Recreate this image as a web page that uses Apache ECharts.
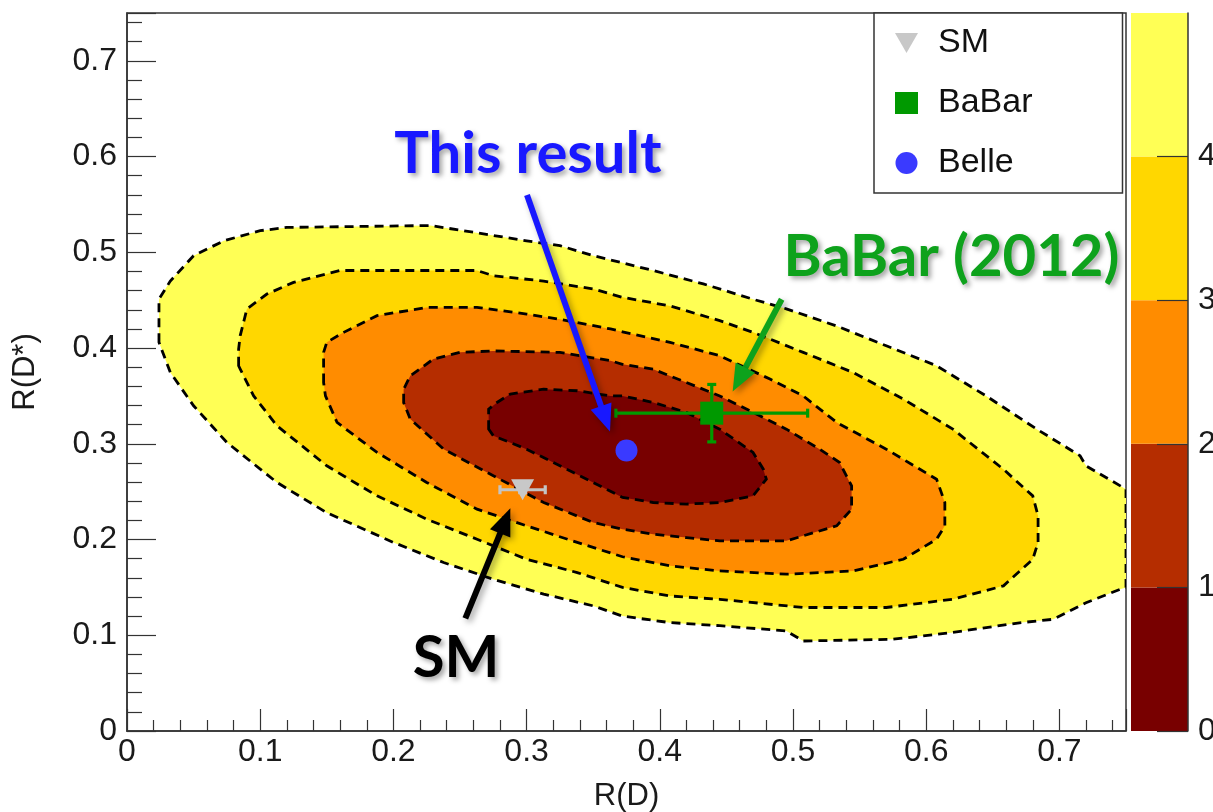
<!DOCTYPE html>
<html>
<head>
<meta charset="utf-8">
<script src="https://cdn.jsdelivr.net/npm/echarts@6/dist/echarts.min.js"></script>
<style>
html,body{margin:0;padding:0;background:#fff;}
#c{width:1213px;height:812px;}
</style>
</head>
<body>
<div id="c"></div>
<script>
// ---------- data ----------
// contour boundaries [R(D), R(D*)], outermost (level 4) to innermost (level 0)
const contourLevel4 = [[0.024,0.406],[0.024,0.451],[0.0325,0.470],[0.050,0.4965],[0.0726,0.512],[0.100,0.5226],[0.120,0.526],[0.2277,0.528],[0.260,0.521],[0.300,0.512],[0.325,0.507],[0.350,0.4965],[0.372,0.489],[0.395,0.481],[0.4327,0.467],[0.470,0.451],[0.495,0.441],[0.5328,0.423],[0.570,0.4024],[0.6078,0.3815],[0.645,0.350],[0.683,0.3153],[0.7155,0.2875],[0.720,0.277],[0.75,0.2526],[0.75,0.150],[0.7455,0.148],[0.720,0.134],[0.6955,0.1167],[0.670,0.113],[0.620,0.103],[0.575,0.0958],[0.5077,0.094],[0.495,0.1045],[0.445,0.110],[0.4077,0.1132],[0.372,0.120],[0.350,0.1307],[0.3128,0.143],[0.275,0.1585],[0.2377,0.176],[0.200,0.197],[0.150,0.228],[0.1126,0.2596],[0.075,0.3014],[0.050,0.3397],[0.0325,0.3746]];
const contourLevel3 = [[0.0838,0.3815],[0.0838,0.399],[0.085,0.413],[0.090,0.4408],[0.105,0.4564],[0.125,0.4686],[0.160,0.481],[0.2628,0.481],[0.275,0.4756],[0.3128,0.470],[0.350,0.4617],[0.372,0.453],[0.4077,0.444],[0.445,0.4286],[0.470,0.4164],[0.5077,0.3955],[0.545,0.3746],[0.5828,0.3467],[0.620,0.3153],[0.6579,0.2735],[0.680,0.2456],[0.684,0.2247],[0.684,0.197],[0.680,0.1794],[0.658,0.1516],[0.620,0.1376],[0.570,0.129],[0.5077,0.129],[0.445,0.1376],[0.4077,0.141],[0.372,0.150],[0.338,0.1655],[0.300,0.1794],[0.2628,0.2003],[0.225,0.2213],[0.1877,0.2456],[0.150,0.277],[0.1126,0.3188],[0.0951,0.350],[0.085,0.378]];
const contourLevel2 = [[0.1476,0.364],[0.1476,0.3955],[0.150,0.406],[0.1627,0.4164],[0.1877,0.4338],[0.225,0.4425],[0.2628,0.4425],[0.300,0.4355],[0.325,0.430],[0.363,0.420],[0.372,0.417],[0.4077,0.406],[0.445,0.392],[0.4827,0.3676],[0.5077,0.350],[0.5328,0.3223],[0.570,0.2944],[0.6078,0.263],[0.614,0.2387],[0.614,0.2143],[0.6078,0.2003],[0.5828,0.1794],[0.545,0.1672],[0.495,0.1638],[0.445,0.1672],[0.4077,0.1725],[0.372,0.182],[0.338,0.197],[0.300,0.2143],[0.2628,0.2317],[0.225,0.2596],[0.1877,0.291],[0.1577,0.3223],[0.149,0.350]];
const contourLevel1 = [[0.2077,0.343],[0.2077,0.357],[0.2127,0.371],[0.230,0.3885],[0.250,0.3955],[0.275,0.397],[0.325,0.3955],[0.363,0.3868],[0.372,0.383],[0.395,0.378],[0.420,0.364],[0.445,0.350],[0.470,0.3328],[0.495,0.3153],[0.520,0.2944],[0.535,0.2805],[0.544,0.256],[0.544,0.2317],[0.5328,0.2143],[0.495,0.1986],[0.445,0.1986],[0.420,0.202],[0.395,0.2056],[0.372,0.2108],[0.350,0.2178],[0.3128,0.2387],[0.275,0.2666],[0.2377,0.2944],[0.2127,0.3258]];
const contourLevel0 = [[0.2715,0.3153],[0.2715,0.3362],[0.2778,0.3432],[0.2878,0.352],[0.3128,0.357],[0.338,0.3554],[0.363,0.350],[0.372,0.350],[0.395,0.3432],[0.420,0.3328],[0.445,0.3153],[0.470,0.291],[0.4777,0.2735],[0.480,0.2631],[0.470,0.2456],[0.445,0.2387],[0.420,0.237],[0.395,0.2387],[0.372,0.244],[0.350,0.2596],[0.325,0.277],[0.300,0.2944],[0.275,0.3084]];

const contourLevels = [4, 3, 2, 1, 0];
const colorbarBounds = [0, 1, 2, 3, 4, 5];
const colorbarTickValues = [0, 1, 2, 3, 4];
const colorbarTickLabels = ['0', '1', '2', '3', '4', ''];

// measurements
const seriesNames = ['SM', 'BaBar', 'Belle'];
const smPoint = [0.297, 0.252];
const smErr = [0.017, 0.003];
const babarPoint = [0.439, 0.332];
const babarErr = [0.072, 0.030];
const bellePoint = [0.375, 0.293];

// annotations: [x, y] in data space
const annotationTexts = ['This result', 'BaBar (2012)', 'SM'];
const annotationPos = [[0.301, 0.602], [0.619, 0.4945], [0.247, 0.076]];
const arrowStarts = [[0.3003, 0.560], [0.4915, 0.451], [0.254, 0.1176]];
const arrowEnds = [[0.3626, 0.3128], [0.4547, 0.3546], [0.2878, 0.2326]];

// ---------- styling ----------
const bandColors = ['#780000', '#b52d00', '#ff8c00', '#ffd700', '#ffff55'];
const annotationColors = ['#1818ff', '#0ea21c', '#000000'];
const contours = [contourLevel4, contourLevel3, contourLevel2, contourLevel1, contourLevel0];
const FONT = 'Liberation Sans, Arial, sans-serif';
const AFONT = 'Lato, Open Sans, sans-serif';

const chart = echarts.init(document.getElementById('c'), null, {renderer: 'canvas'});

const axisCommon = {
  type: 'value', min: 0, max: 0.75, interval: 0.1,
  splitLine: {show: false},
  axisLine: {show: true, onZero: false, lineStyle: {color: '#333', width: 1.5}},
  axisLabel: {fontSize: 32, fontFamily: FONT, color: '#1a1a1a', showMaxLabel: false,
    formatter: v => (Math.round(v * 10) / 10).toString()},
  nameLocation: 'middle',
  nameTextStyle: {fontSize: 31, fontFamily: FONT, color: '#1a1a1a'},
  z: 6
};

const option = {
  animation: false,
  backgroundColor: '#fff',
  grid: [
    {left: 127, right: 87, top: 13, bottom: 81, show: true, borderColor: '#333', borderWidth: 1.5, outerBoundsMode: 'none', containLabel: false},
    {left: 1131, right: 25, top: 13, bottom: 81, show: false, outerBoundsMode: 'none', containLabel: false}
  ],
  xAxis: [
    Object.assign({}, axisCommon, {
      gridIndex: 0, name: 'R(D)', nameGap: 50,
      axisTick: {show: true, inside: true, length: 22, lineStyle: {color: '#333', width: 1.2}},
      minorTick: {show: true, splitNumber: 5, length: 11, lineStyle: {color: '#333', width: 1.2}},
      axisLabel: Object.assign({}, axisCommon.axisLabel, {margin: 5})
    }),
    {type: 'value', gridIndex: 1, min: 0, max: 1, show: false}
  ],
  yAxis: [
    Object.assign({}, axisCommon, {
      gridIndex: 0, name: 'R(D*)', nameGap: 86,
      axisTick: {show: true, inside: true, length: 29, lineStyle: {color: '#333', width: 1.2}},
      minorTick: {show: true, splitNumber: 5, length: 15, lineStyle: {color: '#333', width: 1.2}},
      axisLabel: Object.assign({}, axisCommon.axisLabel, {margin: 10})
    }),
    {
      type: 'value', gridIndex: 1, min: 0, max: 5, interval: 1, position: 'right', z: 6,
      splitLine: {show: false},
      axisLine: {show: true, onZero: false, lineStyle: {color: '#333', width: 1.5}},
      axisTick: {show: true, inside: true, length: 31, customValues: colorbarTickValues, lineStyle: {color: '#333', width: 1.2}},
      axisLabel: {fontSize: 32, fontFamily: FONT, color: '#1a1a1a', margin: 10,
        formatter: v => colorbarTickLabels[colorbarBounds.indexOf(Math.round(v))] || ''}
    }
  ],
  legend: {
    orient: 'vertical', left: 874, top: 13,
    padding: [13, 90, 13, 21],
    itemWidth: 23, itemHeight: 22, itemGap: 26,
    borderColor: '#333', borderWidth: 1.5, backgroundColor: '#fff',
    selectedMode: false,
    textStyle: {fontSize: 34, fontFamily: FONT, color: '#111', padding: [0, 0, 0, 15], lineHeight: 34},
    data: [
      {name: 'SM', icon: 'path://M0,0L24,0L12,21Z', itemStyle: {color: '#c8c8c8', opacity: 1}},
      {name: 'BaBar', icon: 'rect', itemStyle: {color: '#009900', opacity: 1}},
      {name: 'Belle', icon: 'circle', itemStyle: {color: '#3a3aff', opacity: 1}}
    ]
  },
  series: [
    {
      type: 'custom', name: 'contours', xAxisIndex: 0, yAxisIndex: 0, clip: true, silent: true, z: 1,
      data: contourLevels.map((lvl, i) => [0.375, 0.375, i]),
      renderItem: function (params, api) {
        const i = api.value(2);
        const pts = contours[i].map(p => api.coord(p));
        return {
          type: 'polygon',
          shape: {points: pts},
          style: {fill: bandColors[contourLevels[i]], stroke: '#000', lineWidth: 2.8, lineDash: [9, 6]}
        };
      }
    },
    {
      type: 'custom', name: 'colorbar', xAxisIndex: 1, yAxisIndex: 1, silent: true, z: 1,
      data: bandColors.map((c, i) => [colorbarBounds[i], colorbarBounds[i + 1], i]),
      renderItem: function (params, api) {
        const a = api.coord([0, api.value(0)]);
        const b = api.coord([1, api.value(1)]);
        return {type: 'rect', shape: {x: a[0], y: b[1], width: b[0] - a[0], height: a[1] - b[1]},
          style: {fill: bandColors[api.value(2)]}};
      }
    },
    {
      type: 'custom', name: 'errorbars', xAxisIndex: 0, yAxisIndex: 0, silent: true, z: 4,
      data: [
        [smPoint[0], smPoint[1], smErr[0], smErr[1], 0],
        [babarPoint[0], babarPoint[1], babarErr[0], babarErr[1], 1]
      ],
      renderItem: function (params, api) {
        const x = api.value(0), y = api.value(1), ex = api.value(2), ey = api.value(3);
        const color = api.value(4) === 0 ? '#c4c4c4' : '#009a00';
        const l = api.coord([x - ex, y]), r = api.coord([x + ex, y]);
        const t = api.coord([x, y + ey]), b = api.coord([x, y - ey]);
        const cap = 4.5;
        const st = {stroke: color, lineWidth: 3.2};
        return {type: 'group', children: [
          {type: 'line', shape: {x1: l[0], y1: l[1], x2: r[0], y2: r[1]}, style: st},
          {type: 'line', shape: {x1: t[0], y1: t[1], x2: b[0], y2: b[1]}, style: st},
          {type: 'line', shape: {x1: l[0], y1: l[1] - cap, x2: l[0], y2: l[1] + cap}, style: st},
          {type: 'line', shape: {x1: r[0], y1: r[1] - cap, x2: r[0], y2: r[1] + cap}, style: st},
          {type: 'line', shape: {x1: t[0] - cap, y1: t[1], x2: t[0] + cap, y2: t[1]}, style: st},
          {type: 'line', shape: {x1: b[0] - cap, y1: b[1], x2: b[0] + cap, y2: b[1]}, style: st}
        ]};
      }
    },
    {type: 'scatter', name: 'SM', data: [smPoint], symbol: 'path://M0,0L24,0L12,21Z', symbolSize: [23, 21],
      itemStyle: {color: '#c8c8c8', opacity: 1}, z: 5, silent: true},
    {type: 'scatter', name: 'BaBar', data: [babarPoint], symbol: 'rect', symbolSize: 23,
      itemStyle: {color: '#009900', opacity: 1}, z: 5, silent: true},
    {type: 'scatter', name: 'Belle', data: [bellePoint], symbol: 'circle', symbolSize: 22,
      itemStyle: {color: '#3a3aff', opacity: 1}, z: 5, silent: true},
    {
      type: 'custom', name: 'arrows', xAxisIndex: 0, yAxisIndex: 0, silent: true, z: 8, clip: false,
      data: arrowStarts.map((s, i) => [s[0], s[1], arrowEnds[i][0], arrowEnds[i][1], i]),
      renderItem: function (params, api) {
        const p1 = api.coord([api.value(0), api.value(1)]);
        const p2 = api.coord([api.value(2), api.value(3)]);
        const color = annotationColors[api.value(4)];
        const dx = p2[0] - p1[0], dy = p2[1] - p1[1], L = Math.hypot(dx, dy);
        const ux = dx / L, uy = dy / L;
        const hl = 27, hw = 11;
        const base = [p2[0] - ux * hl, p2[1] - uy * hl];
        const sh = {shadowColor: 'rgba(0,0,0,0.35)', shadowBlur: 6, shadowOffsetX: 3, shadowOffsetY: 3};
        return {type: 'group', children: [
          {type: 'line', shape: {x1: p1[0], y1: p1[1], x2: base[0] + ux * 3, y2: base[1] + uy * 3},
            style: Object.assign({stroke: color, lineWidth: 6}, sh)},
          {type: 'polygon', shape: {points: [p2, [base[0] - uy * hw, base[1] + ux * hw], [base[0] + uy * hw, base[1] - ux * hw]]},
            style: Object.assign({fill: color}, sh)}
        ]};
      }
    },
    {
      type: 'custom', name: 'annotations', xAxisIndex: 0, yAxisIndex: 0, silent: true, z: 9, clip: false,
      data: annotationPos.map((p, i) => [p[0], p[1], i]),
      renderItem: function (params, api) {
        const p = api.coord([api.value(0), api.value(1)]);
        const i = api.value(2);
        return {
          type: 'text', x: p[0], y: p[1],
          style: {
            text: annotationTexts[i], fill: annotationColors[i],
            fontSize: 58, fontWeight: 'bold', fontFamily: AFONT,
            align: 'center', verticalAlign: 'middle',
            textShadowColor: 'rgba(0,0,0,0.35)', textShadowBlur: 5, textShadowOffsetX: 3, textShadowOffsetY: 3
          }
        };
      }
    }
  ]
};

chart.setOption(option);
</script>
</body>
</html>
